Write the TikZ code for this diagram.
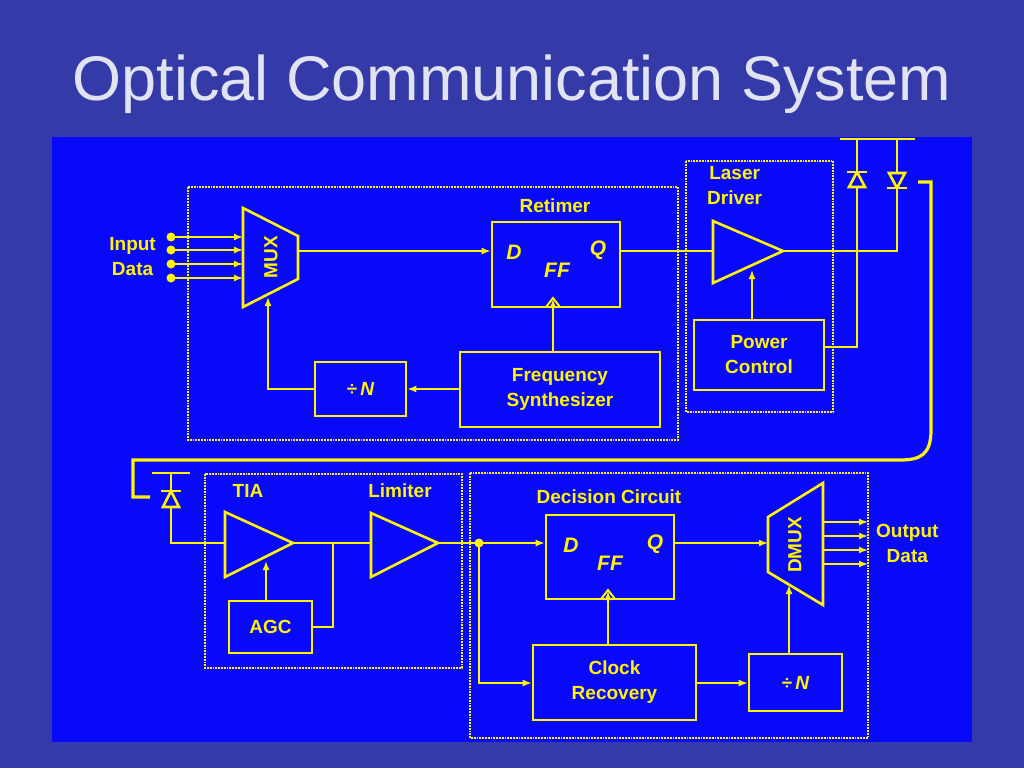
\documentclass[tikz,border=0pt]{standalone}
\usepackage{fontspec}
\setmainfont{Liberation Sans}
\usetikzlibrary{arrows.meta}
\definecolor{bgblue}{RGB}{52,58,168}
\definecolor{panel}{RGB}{8,8,250}
\definecolor{ylw}{RGB}{255,245,0}
\definecolor{ttl}{RGB}{225,228,240}
\begin{document}
\begin{tikzpicture}[x=1pt,y=-1pt,
  wire/.style={ylw,line width=1.6pt},
  arr/.style={wire,-{Latex[length=9pt,width=7pt]}},
  blk/.style={ylw,line width=2.6pt},
  frame/.style={ylw,line width=1.8pt,densely dotted},
  lbl/.style={text=ylw,font=\bfseries\fontsize{19}{25}\selectfont,align=center,inner sep=0pt},
  box/.style={draw=ylw,line width=2.6pt,lbl,minimum width=#1,minimum height=40pt},
  ffl/.style={text=ylw,font=\bfseries\itshape\fontsize{21}{21}\selectfont,inner sep=0pt}]
\useasboundingbox (0,0) rectangle (1024,768);
\fill[bgblue] (0,0) rectangle (1024,768);
% title
\node[text=ttl,font=\fontsize{63}{66}\selectfont,anchor=center] (title) at (512,84) {Optical Communication System};
\fill[panel] (52,137) rectangle (972,742);
% frames
\draw[frame] (188,187) rectangle (678,440);
\draw[frame] (686,161) rectangle (833,412);
\draw[frame] (205,474) rectangle (462,668);
\draw[frame] (470,473) rectangle (868,738);
% transmitter
\node[lbl,anchor=east] (inlbl) at (156,257) {Input\\Data};
\draw[blk] (243,208) -- (298,236) -- (298,279) -- (243,307) -- cycle;
\node[lbl,rotate=90] (mux) at (271,257) {MUX};
\coordinate (muxout) at (298,251);
\coordinate (muxsel) at (268,297);
\foreach \y in {237,250,264,278}{
  \fill[ylw] (171,\y) circle (4.5pt);
  \draw[arr] (171,\y) -- (243,\y);
}
\node[box=128pt,minimum height=85pt] (ff1) at (556,264.5) {};
\node[lbl] (ret) at (555,206) {Retimer};
\node[ffl] at (514,252) {D};
\node[ffl] at (598,250) {Q};
\node[ffl] at (557,270) {FF};
\draw[wire,line width=2pt] (546,307) -- (553,298) -- (560,307);
\draw[arr] (muxout) -- (ff1.west |- muxout);
\node[box=200pt,minimum height=75pt] (fs) at (560,389.5) {Frequency\\Synthesizer};
\node[box=91pt,minimum height=54pt] (div1) at (360.5,389) {÷\,\itshape N};
\draw[arr] (fs.west |- div1) -- (div1.east);
\draw[arr] (div1.west) -| (muxsel);
\draw[arr] (fs.north -| 553,0) -- (553,299);
% laser driver
\node[lbl,anchor=north west] (ldl) at (707,166) {Laser\\Driver};
\draw[blk] (713,221) -- (713,283) -- (783,251) -- cycle;
\coordinate (amp) at (713,251);
\draw[wire] (ff1.east |- amp) -- (amp);
\node[box=130pt,minimum height=70pt] (pc) at (759,355) {Power\\Control};
\draw[arr] (pc.north -| 752,0) -- (752,270);
\draw[wire] (783,251) -- (897,251) -- (897,139);
\draw[wire] (pc.east |- 0,347) -- (857,347) -- (857,139);
\draw[wire,line width=2.4pt] (840,139) -- (915,139);
\draw[blk,fill=panel] (849,187) -- (865,187) -- (857,172) -- cycle;
\draw[blk] (847,172) -- (867,172);
\draw[blk,fill=panel] (889,173) -- (905,173) -- (897,188) -- cycle;
\draw[blk] (887,188) -- (907,188);
% fiber
\draw[ylw,line width=3.2pt] (918,182) -- (931,182) -- (931,430) .. controls (931,455) and (920,460) .. (900,460) -- (133,460) -- (133,497) -- (150,497);
% receiver
\draw[wire,line width=2.4pt] (152,473) -- (190,473);
\draw[wire] (171,473) -- (171,543) -- (225,543);
\draw[blk,fill=panel] (163,507) -- (179,507) -- (171,491) -- cycle;
\draw[blk] (161,491) -- (181,491);
\node[lbl] (tial) at (248,491) {TIA};
\node[lbl] (liml) at (400,491) {Limiter};
\draw[blk] (225,512) -- (225,577) -- (293,543) -- cycle;
\draw[blk] (371,513) -- (371,577) -- (438,543) -- cycle;
\node[box=83pt,minimum height=52pt] (agc) at (270.5,627) {AGC};
\draw[arr] (agc.north -| 266,0) -- (266,561);
\draw[wire] (293,543) -- (371,543);
\draw[wire] (333,543) -- (333,627) -- (agc.east);
\coordinate (tap) at (479,543);
\draw[wire] (438,543) -- (tap);
\fill[ylw] (tap) circle (4.5pt);
% decision circuit
\node[lbl] (dcl) at (609,497) {Decision Circuit};
\node[box=128pt,minimum height=84pt] (ff2) at (610,557) {};
\node[ffl] at (571,545) {D};
\node[ffl] at (655,544) {Q};
\node[ffl] at (610,563) {FF};
\draw[wire,line width=2pt] (601,599) -- (608,590) -- (615,599);
\draw[arr] (tap) -- (ff2.west |- tap);
\node[box=163pt,minimum height=75pt] (cr) at (614.5,682.5) {Clock\\Recovery};
\draw[arr] (tap) |- (cr.west |- 0,683);
\draw[arr] (cr.north -| 608,0) -- (608,591);
\node[box=93pt,minimum height=57pt] (div2) at (795.5,682.5) {÷\,\itshape N};
\draw[arr] (cr.east |- 0,683) -- (div2.west |- 0,683);
\draw[blk] (768,517) -- (823,483) -- (823,605) -- (768,572) -- cycle;
\node[lbl,rotate=90] (dmux) at (795,545) {DMUX};
\draw[arr] (ff2.east |- 0,543) -- (768,543);
\draw[arr] (div2.north -| 789,0) -- (789,585);
\foreach \y in {522,536,550,564}{
  \draw[arr] (823,\y) -- (868,\y);
}
\node[lbl,anchor=west] (outl) at (876,543) {Output\\Data};
\end{tikzpicture}
\end{document}
